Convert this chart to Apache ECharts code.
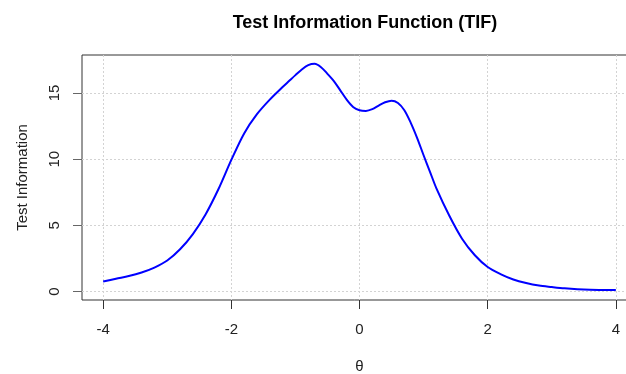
<!DOCTYPE html>
<html>
<head>
<meta charset="utf-8">
<script src="https://cdn.jsdelivr.net/npm/echarts@6/dist/echarts.min.js"></script>
<style>html,body{margin:0;padding:0;background:#fff}#c{width:626px;height:374px}</style>
</head>
<body>
<div id="c"></div>
<script>
var theta = [-4.0,-3.8,-3.6,-3.4,-3.2,-3.0,-2.8,-2.6,-2.4,-2.2,-2.0,-1.8,-1.6,-1.4,-1.2,-1.1,-1.0,-0.9,-0.8,-0.7,-0.6,-0.5,-0.4,-0.3,-0.2,-0.1,0.0,0.1,0.2,0.3,0.4,0.5,0.6,0.7,0.8,0.9,1.0,1.1,1.2,1.4,1.6,1.8,2.0,2.2,2.4,2.6,2.8,3.0,3.2,3.4,3.6,3.8,4.0];
var information = [0.76,0.98,1.18,1.45,1.82,2.35,3.2,4.35,5.85,7.75,9.95,11.95,13.4,14.5,15.45,15.9,16.35,16.78,17.1,17.2,16.95,16.45,15.9,15.2,14.5,13.95,13.7,13.65,13.78,14.05,14.3,14.42,14.25,13.7,12.75,11.6,10.3,9.05,7.8,5.75,4.0,2.75,1.86,1.33,0.92,0.65,0.46,0.35,0.25,0.18,0.14,0.13,0.12];
var xTicks = [-4,-2,0,2,4];
var yTicks = [0,5,10,15];

var chart = echarts.init(document.getElementById('c'), null, {renderer:'canvas'});
var font = 'Liberation Sans, Arial, sans-serif';
var data = theta.map(function(t,i){return [t, information[i]];});
chart.setOption({
  animation:false,
  title:{text:'Test Information Function (TIF)', left:360, top:9, textAlign:'center',
    textStyle:{fontFamily:font, fontSize:18, fontWeight:'bold', color:'#000'}},
  grid:{left:82, top:55, bottom:74, right:-11, outerBoundsMode:'none', containLabel:false,
    show:true, borderColor:'#333', borderWidth:1, backgroundColor:'transparent'},
  xAxis:{type:'value', min:-4.33, max:4.33,
    name:'θ', nameLocation:'middle', nameGap:59,
    nameTextStyle:{fontFamily:font, fontSize:15, color:'#222'},
    axisLine:{show:false, onZero:false},
    axisTick:{show:true, length:9, customValues:xTicks, lineStyle:{color:'#333'}},
    axisLabel:{customValues:xTicks, margin:22, fontFamily:font, fontSize:15, color:'#222'},
    splitLine:{show:true, customValues:xTicks, lineStyle:{color:'#d3d3d3', type:[2,2], width:1}}
  },
  yAxis:{type:'value', min:-0.63, max:17.87,
    name:'Test Information', nameLocation:'middle', nameGap:52,
    nameTextStyle:{fontFamily:font, fontSize:15, color:'#222'},
    axisLine:{show:false, onZero:false},
    axisTick:{show:true, length:9, customValues:yTicks, lineStyle:{color:'#666'}},
    axisLabel:{customValues:yTicks, rotate:90, margin:20, fontFamily:font, fontSize:15, color:'#222'},
    splitLine:{show:true, customValues:yTicks, lineStyle:{color:'#d3d3d3', type:[2,2], width:1}}
  },
  series:[{type:'line', data:data, smooth:0.3, symbol:'none', lineStyle:{color:'#0000ff', width:2}}]
});
</script>
</body>
</html>
